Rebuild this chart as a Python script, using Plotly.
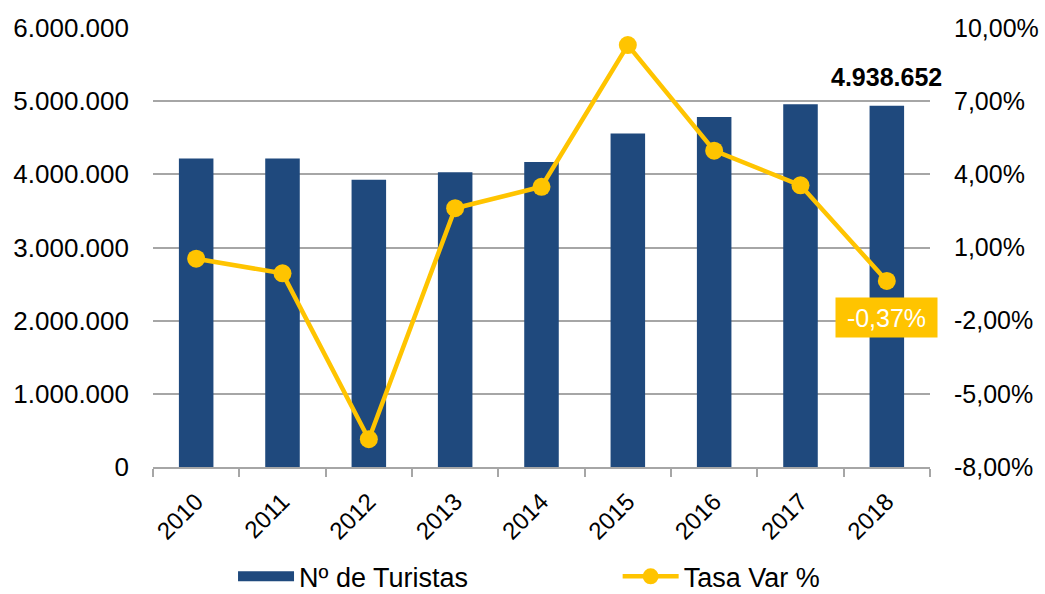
import plotly.graph_objects as go

years = ["2010", "2011", "2012", "2013", "2014", "2015", "2016", "2017", "2018"]
turistas = [4218000, 4216000, 3927000, 4030000, 4170000, 4559000, 4785000, 4957000, 4938652]
tasa_var = [0.54, -0.06, -6.86, 2.61, 3.49, 9.30, 4.97, 3.55, -0.37]

left_ticks = [0, 1000000, 2000000, 3000000, 4000000, 5000000, 6000000]
left_labels = ["0", "1.000.000", "2.000.000", "3.000.000", "4.000.000", "5.000.000", "6.000.000"]
right_ticks = [-8, -5, -2, 1, 4, 7, 10]
right_labels = ["-8,00%", "-5,00%", "-2,00%", "1,00%", "4,00%", "7,00%", "10,00%"]

last_bar_label = "4.938.652"
last_var_label = "-0,37%"

BLUE = "#1F497D"
YELLOW = "#FFC400"
GRID = "#A6A6A6"
FONT = "Liberation Sans, Arial, sans-serif"
FS = 25

xnum = [int(y) for y in years]
boundaries = [v - 0.5 for v in xnum] + [xnum[-1] + 0.5]

fig = go.Figure()
fig.add_trace(go.Bar(
    x=xnum, y=turistas, name="Nº de Turistas", showlegend=False,
    marker=dict(color=BLUE, line=dict(width=0)),
))
# legend proxy for the bars (wide rectangle symbol)
fig.add_trace(go.Scatter(
    x=[None], y=[None], name="Nº de Turistas", mode="lines",
    line=dict(color=BLUE, width=14), legend="legend",
))
fig.add_trace(go.Scatter(
    x=xnum, y=tasa_var, name="Tasa Var %", yaxis="y2",
    mode="lines+markers",
    line=dict(color=YELLOW, width=4.5),
    marker=dict(color=YELLOW, size=18),
    cliponaxis=False, legend="legend2",
))

fig.add_annotation(
    x=xnum[-1], y=turistas[-1], xref="x", yref="y",
    text="<b>" + last_bar_label + "</b>", showarrow=False,
    yanchor="bottom", yshift=13,
    font=dict(family=FONT, size=FS, color="black"),
)
fig.add_annotation(
    x=xnum[-1], y=tasa_var[-1], yref="y2", xref="x",
    text=last_var_label, showarrow=False, yshift=-37,
    bgcolor=YELLOW, font=dict(family=FONT, size=FS, color="white"),
    width=93, height=31, borderpad=4,
)

fig.update_layout(
    width=1045, height=594,
    margin=dict(l=153, r=115, t=28, b=127, autoexpand=False),
    paper_bgcolor="white", plot_bgcolor="white",
    bargap=0.6,
    font=dict(family=FONT, size=FS, color="black"),
    showlegend=True,
    legend=dict(
        x=0.103, xanchor="left", y=-0.25, yanchor="middle",
        font=dict(family=FONT, size=27, color="black"),
        itemwidth=56, bgcolor="rgba(0,0,0,0)",
    ),
    legend2=dict(
        x=0.598, xanchor="left", y=-0.25, yanchor="middle",
        font=dict(family=FONT, size=27, color="black"),
        itemwidth=56, bgcolor="rgba(0,0,0,0)",
    ),
    xaxis=dict(
        type="linear", range=[boundaries[0], boundaries[-1]],
        tickvals=xnum, ticktext=years, tickangle=-45,
        showline=True, linecolor=GRID, linewidth=2,
        ticks="", showgrid=False, zeroline=False,
        ticklabelstandoff=9,
        minor=dict(tickvals=boundaries, ticks="outside", ticklen=8,
                   tickcolor=GRID, tickwidth=1.5, showgrid=False),
        tickfont=dict(family=FONT, size=24),
    ),
    yaxis=dict(
        range=[0, 6000000], tickvals=left_ticks, ticktext=left_labels,
        showgrid=True, gridcolor=GRID, gridwidth=2,
        showline=False, zeroline=False, ticks="",
        ticklabelstandoff=23,
        tickfont=dict(family=FONT, size=26),
    ),
    yaxis2=dict(
        range=[-8, 10], tickvals=right_ticks, ticktext=right_labels,
        overlaying="y", side="right",
        showgrid=False, zeroline=False, showline=False, ticks="",
        ticklabelstandoff=23,
        tickfont=dict(family=FONT, size=FS),
    ),
)

fig.write_html(
    "out.html",
    config={"displayModeBar": False},
    post_script="document.body.style.margin='0';document.body.style.padding='0';",
)
